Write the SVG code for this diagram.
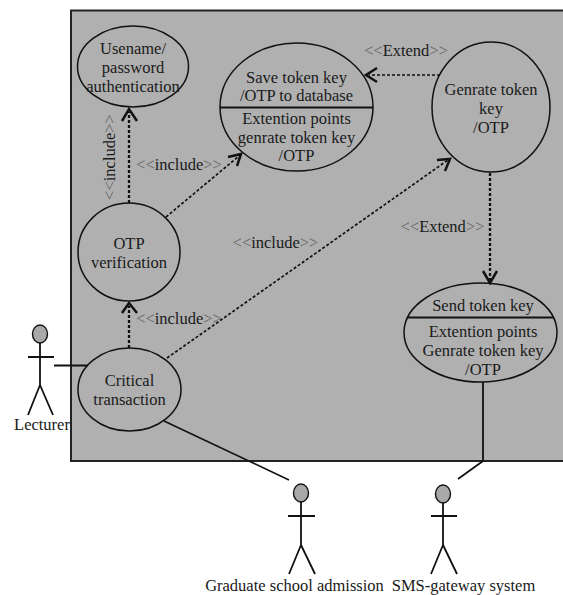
<svg xmlns="http://www.w3.org/2000/svg" width="563" height="595" viewBox="0 0 563 595">
<style>
text{font-family:"Liberation Serif","Times New Roman",serif;font-size:16.5px;fill:#1a1a1a;text-anchor:middle}
.g{fill:#666}
.u{fill:#b0b0b0;stroke:#111;stroke-width:1.5}
.l{stroke:#111;stroke-width:1.6;fill:none}
.t{stroke:#111;stroke-width:1.8;fill:none}
.d{stroke:#111;stroke-width:1.7;stroke-dasharray:3 2;fill:none}
.dt{stroke:#111;stroke-width:2.3;stroke-dasharray:3 2;fill:none}
.a{stroke:#111;stroke-width:2.5;fill:none}
.h{fill:#a8a8a8;stroke:#111;stroke-width:1.4}
</style>
<rect id="boundary" x="71" y="10.500" width="500" height="450.500" fill="#b0b0b0" stroke="#222" stroke-width="2"/>
<g id="uc-password"><ellipse class="u" cx="133" cy="66.500" rx="55.500" ry="40.500"/><text x="133" y="54">Usename/</text><text x="133" y="73">password</text><text x="133" y="91.500">authentication</text></g>
<g id="uc-save"><ellipse class="u" cx="296.500" cy="107" rx="76.500" ry="64"/><path class="t" d="M220 107.500H373"/><text x="296.500" y="82.500">Save token key</text><text x="296.500" y="101">/OTP to database</text><text x="296.500" y="124">Extention points</text><text x="296.500" y="142.500">genrate token key</text><text x="296.500" y="161">/OTP</text></g>
<g id="uc-generate"><ellipse class="u" cx="491" cy="107" rx="59" ry="65"/><text x="491" y="95">Genrate token</text><text x="491" y="114">key</text><text x="491" y="132.500">/OTP</text></g>
<g id="uc-otp"><ellipse class="u" cx="129" cy="252" rx="51" ry="49"/><text x="129" y="249">OTP</text><text x="129" y="268">verification</text></g>
<g id="uc-critical"><ellipse class="u" cx="129.500" cy="389.500" rx="51.500" ry="41.500"/><text x="129.500" y="386">Critical</text><text x="129.500" y="405">transaction</text></g>
<g id="uc-send"><ellipse class="u" cx="480.500" cy="332.500" rx="76.500" ry="49.500"/><path class="t" d="M408 317.500H553"/><text x="483" y="311">Send token key</text><text x="483" y="337">Extention points</text><text x="483" y="356">Genrate token key</text><text x="483" y="374.500">/OTP</text></g>
<g id="connectors">
<path class="dt" d="M129 203V112"/><path class="a" d="M122 121L129 109L137 121"/>
<path class="d" d="M166 217L239 156"/><path class="a" d="M228 157L241 154L237 166"/>
<path class="dt" d="M129 348V306"/><path class="a" d="M122 313L129 303L137 313"/>
<path class="d" d="M167 358L448 160"/><path class="a" d="M437 160L450 159L445 171"/>
<path class="d" d="M440 75H369"/><path class="a" d="M377 68L366 75L377 82"/>
<path class="dt" d="M490 173V280"/><path class="a" d="M483 271L490 283L497 271"/>
<path class="t" d="M54 365.500H88"/>
<path class="l" d="M164 421L289 480"/>
<path class="t" d="M483 382V461L458 479"/>
</g>
<g id="actor-lecturer"><ellipse class="h" cx="40" cy="334" rx="7.500" ry="9"/><path class="t" d="M40 343V385M28 357H54M40 385L28 415M40 385L53 415"/><text x="42" y="430">Lecturer</text></g>
<g id="actor-graduate"><ellipse class="h" cx="301" cy="493" rx="7.500" ry="9"/><path class="t" d="M301 502V545M288 516H315M301 545L289 574M301 545L315 574"/><text x="294.500" y="591">Graduate school admission</text></g>
<g id="actor-sms"><ellipse class="h" cx="443" cy="494" rx="7.500" ry="9"/><path class="t" d="M443 503V545M431 516H457M443 545L431 574M443 545L457 574"/><text x="463.500" y="591">SMS-gateway system</text></g>
<g id="labels">
<text transform="translate(115 157) rotate(-90)"><tspan class="g">&lt;&lt;</tspan>include<tspan class="g">&gt;&gt;</tspan></text>
<text x="179" y="170"><tspan class="g">&lt;&lt;</tspan>include<tspan class="g">&gt;&gt;</tspan></text>
<text x="275.500" y="248"><tspan class="g">&lt;&lt;</tspan>include<tspan class="g">&gt;&gt;</tspan></text>
<text x="179" y="324"><tspan class="g">&lt;&lt;</tspan>include<tspan class="g">&gt;&gt;</tspan></text>
<text x="406" y="56"><tspan class="g">&lt;&lt;</tspan>Extend<tspan class="g">&gt;&gt;</tspan></text>
<text x="442.500" y="232"><tspan class="g">&lt;&lt;</tspan>Extend<tspan class="g">&gt;&gt;</tspan></text>
</g>
</svg>
